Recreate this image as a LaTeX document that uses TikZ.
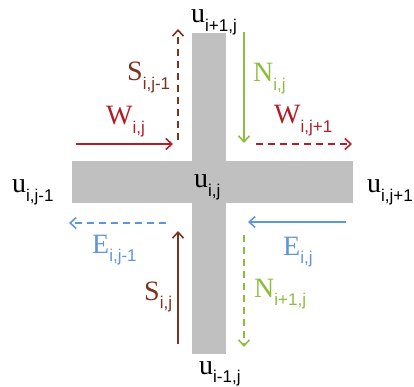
\documentclass[tikz,border=0pt]{standalone}
\usepackage{fontspec}
\setmainfont{Liberation Serif}
\newfontfamily\subf{Liberation Sans}
\usetikzlibrary{arrows.meta}
\definecolor{cred}{RGB}{178,30,40}
\definecolor{cbrown}{RGB}{125,50,30}
\definecolor{cgreen}{RGB}{140,190,60}
\definecolor{cblue}{RGB}{95,150,215}
\definecolor{cgray}{RGB}{192,192,192}
\newcommand{\lbl}[2]{#1\raisebox{-0.3em}{\subf\fontsize{17}{17}\selectfont #2}}
\tikzset{
  flux/.style={line width=1.8pt,-{Straight Barb[length=6pt,width=11pt,line width=1.6pt]}},
  fluxd/.style={flux,dash pattern=on 7pt off 5pt},
  lab/.style={anchor=base west,inner sep=0pt,font=\fontsize{28}{28}\selectfont},
}
\begin{document}
\begin{tikzpicture}[x=1pt,y=-1pt]
\useasboundingbox (0,0) rectangle (414,387);
% cross
\fill[cgray] (192,33) rectangle (226,354);
\fill[cgray] (72,161) rectangle (353,203);
% coordinates
\coordinate (wa) at (76,144); \coordinate (wb) at (173,144);
\coordinate (sa) at (178,140); \coordinate (sb) at (178,29);
\coordinate (na) at (244,32); \coordinate (nb) at (244,143);
\coordinate (w2a) at (256,144); \coordinate (w2b) at (352,144);
\coordinate (ea) at (166,223); \coordinate (eb) at (69,223);
\coordinate (e2a) at (346,222); \coordinate (e2b) at (248,222);
\coordinate (s2a) at (178,344); \coordinate (s2b) at (178,231);
\coordinate (n2a) at (244,235); \coordinate (n2b) at (244,347);
% arrows
\draw[flux,cred] (wa) -- (wb);
\draw[fluxd,cbrown] (sa) -- (sb);
\draw[flux,cgreen] (na) -- (nb);
\draw[fluxd,cred] (w2a) -- (w2b);
\draw[fluxd,cblue] (ea) -- (eb);
\draw[flux,cblue] (e2a) -- (e2b);
\draw[flux,cbrown] (s2a) -- (s2b);
\draw[fluxd,cgreen] (n2a) -- (n2b);
% labels
\node[lab] (uT) at (191,23) {\lbl{u}{i+1,j}};
\node[lab,cbrown] (lS1) at (127,81) {\lbl{S}{i,j-1}};
\node[lab,cred] (lW1) at (106,125) {\lbl{W}{i,j}};
\node[lab,cgreen] (lN1) at (253,82) {\lbl{N}{i,j}};
\node[lab,cred] (lW2) at (274,124) {\lbl{W}{i,j+1}};
\node[lab] (uL) at (12,193) {\lbl{u}{i,j-1}};
\node[lab] (uC) at (194,188) {\lbl{u}{i,j}};
\node[lab] (uR) at (367,193) {\lbl{u}{i,j+1}};
\node[lab,cblue] (lE1) at (92,253) {\lbl{E}{i,j-1}};
\node[lab,cblue] (lE2) at (283,255) {\lbl{E}{i,j}};
\node[lab,cbrown] (lS2) at (144,300) {\lbl{S}{i,j}};
\node[lab,cgreen] (lN2) at (254,297) {\lbl{N}{i+1,j}};
\node[lab] (uB) at (199,374) {\lbl{u}{i-1,j}};
\end{tikzpicture}
\end{document}
